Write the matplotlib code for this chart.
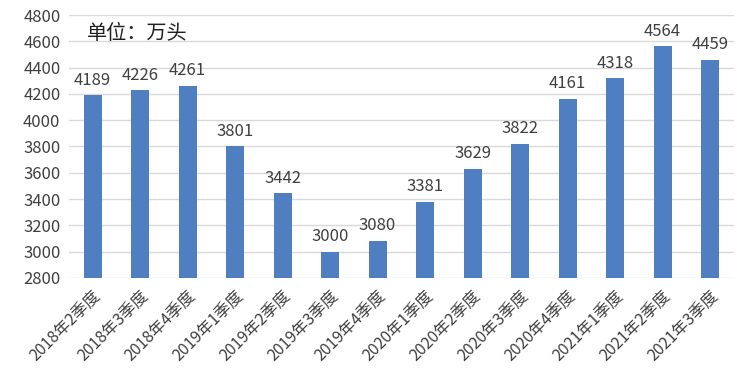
import matplotlib.pyplot as plt
import numpy as np

plt.rcParams['font.family'] = ['Noto Sans CJK SC', 'DejaVu Sans']

quarters = ['2018年2季度', '2018年3季度', '2018年4季度', '2019年1季度', '2019年2季度',
            '2019年3季度', '2019年4季度', '2020年1季度', '2020年2季度', '2020年3季度',
            '2020年4季度', '2021年1季度', '2021年2季度', '2021年3季度']
values = [4189, 4226, 4261, 3801, 3442, 3000, 3080, 3381, 3629, 3822, 4161, 4318, 4564, 4459]
yticks = np.arange(2800, 4801, 200)

fig = plt.figure(figsize=(7.48, 3.68), dpi=100)
ax = fig.add_axes([0.092, 0.245, 0.889, 0.714])

x = np.arange(len(quarters))
ax.bar(x, values, width=0.38, color='#4f7fc0', zorder=3)
for xi, v in zip(x, values):
    ax.text(xi, v + 50, str(v), ha='center', va='bottom', fontsize=12, color='#404040')

ax.set_ylim(2800, 4800)
ax.set_xlim(-0.5, len(quarters) - 0.5)
ax.set_yticks(yticks)
ax.set_yticklabels([str(t) for t in yticks], fontsize=12, color='#404040')
ax.set_xticks(x)
ax.set_xticklabels(quarters, rotation=45, ha='right', rotation_mode='anchor',
                   fontsize=11.5, color='#404040')
ax.tick_params(axis='x', length=0, pad=7)
ax.tick_params(axis='y', length=0, pad=6)
ax.grid(axis='y', color='#d9d9d9', linewidth=1, zorder=0)
for s in ax.spines.values():
    s.set_visible(False)

ax.text(0.027, 0.93, '单位：万头', transform=ax.transAxes, fontsize=14.5,
        color='#202020', va='center', ha='left')

fig.savefig('out.png', dpi=100, facecolor='white')
